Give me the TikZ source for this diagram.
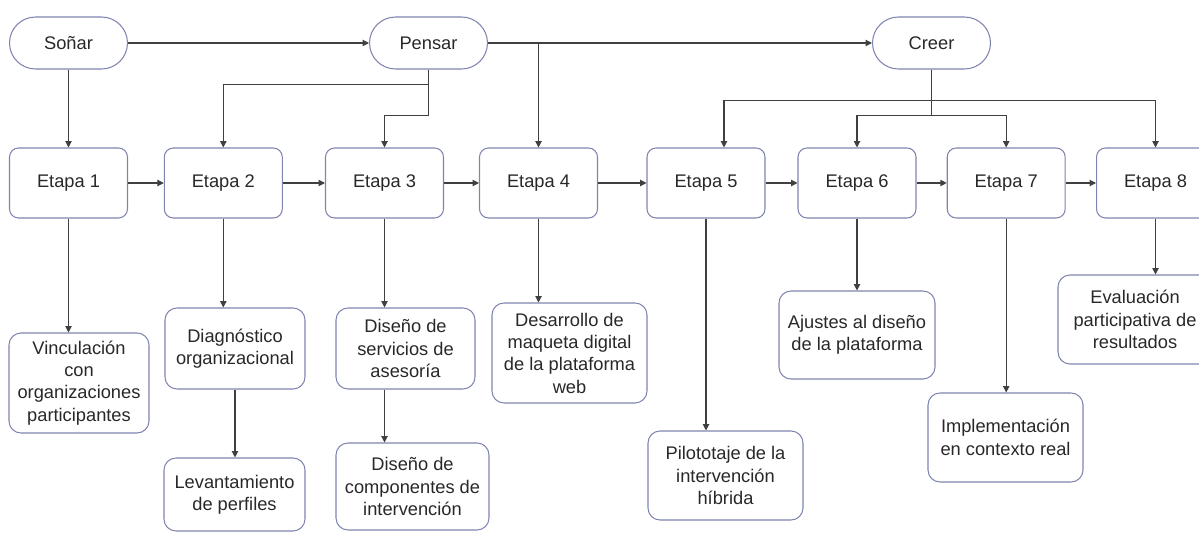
\documentclass[tikz,border=0pt]{standalone}
\usepackage{fontspec}
\setmainfont{Liberation Sans}
\usepackage{xcolor}
\usetikzlibrary{arrows.meta}

\definecolor{borde}{RGB}{128,132,176}
\definecolor{linea}{RGB}{64,64,64}
\definecolor{texto}{RGB}{40,40,40}

\tikzset{
	terminal/.style = {draw=borde, line width=0.6pt, rounded corners=0.52cm,
		minimum width=2.36cm, minimum height=1.04cm, inner sep=0pt},
	etapa/.style = {draw=borde, line width=0.6pt, rounded corners=0.18cm,
		minimum width=2.36cm, minimum height=1.4cm, inner sep=0pt},
	tarea/.style 2 args = {draw=borde, line width=0.6pt, rounded corners=0.24cm,
		minimum width=#1*0.02cm, minimum height=#2*0.02cm, inner sep=0pt, align=center},
	flecha/.style = {draw=linea, line width=0.6pt, -{Triangle[length=3.6pt, width=3.6pt]}}
}

\begin{document}
\begin{tikzpicture}[x=0.02cm, y=-0.02cm,
		font=\fontsize{10.4}{12.7}\selectfont, text=texto]
	\useasboundingbox (0,0) rectangle (1199,533);

	% fases
	\node [terminal] (sonar)  at (68.5,43)  {Soñar};
	\node [terminal] (pensar) at (428.5,43) {Pensar};
	\node [terminal] (creer)  at (931.5,43) {Creer};

	% etapas
	\foreach \n/\x in {1/68.5, 2/223.3, 3/384.5, 4/538.5, 5/706, 6/857, 7/1006.2, 8/1155.5}
		\node [etapa] (e\n) at (\x,183) {Etapa \n};

	% actividades
	\node [tarea={140}{100}] (vinc) at (79,383)     {Vinculación\\con\\organizaciones\\participantes};
	\node [tarea={140}{81}]  (diag) at (235,348.5)  {Diagnóstico\\organizacional};
	\node [tarea={141}{73}]  (lev)  at (234.5,494.5) {Levantamiento\\de perfiles};
	\node [tarea={139}{81}]  (serv) at (405.5,348.5) {Diseño de\\servicios de\\asesoría};
	\node [tarea={153}{87}]  (comp) at (412.5,486.5) {Diseño de\\componentes de\\intervención};
	\node [tarea={155}{100}] (desa) at (569.5,353)  {Desarrollo de\\maqueta digital\\de la plataforma\\web};
	\node [tarea={155}{89}]  (pilo) at (725.5,475.5) {Pilototaje de la\\intervención\\híbrida};
	\node [tarea={156}{88}]  (ajus) at (857,335)    {Ajustes al diseño\\de la plataforma};
	\node [tarea={155}{89}]  (impl) at (1005.5,437.5) {Implementación\\en contexto real};
	\node [tarea={154}{89}]  (eval) at (1135,319.5) {Evaluación\\participativa de\\resultados};

	% conexiones entre fases
	\draw [flecha] (sonar) -- (pensar);
	\draw [flecha] (pensar.east) -- (creer.west);
	\draw [flecha] (pensar.east) -| (e4.north);
	\draw [flecha] (sonar) -- (e1);
	\draw [flecha] (pensar.south) -- ++(0,15) -| (e2.north);
	\draw [flecha] (pensar.south) -- ++(0,46) -| (e3.north);
	\draw [flecha] (creer.south) -- ++(0,31) -| ([xshift=0.36cm]e5.north);
	\draw [flecha] (creer.south) -- ++(0,31) -| (e8.north);
	\draw [flecha] (creer.south) -- ++(0,46) -| (e6.north);
	\draw [flecha] (creer.south) -- ++(0,46) -| (e7.north);

	% secuencia de etapas
	\foreach \a/\b in {e1/e2, e2/e3, e3/e4, e4/e5, e5/e6, e6/e7, e7/e8}
		\draw [flecha] (\a) -- (\b);

	% etapas a actividades
	\draw [flecha] (e1.south) -- (e1.south |- vinc.north);
	\draw [flecha] (e2.south) -- (e2.south |- diag.north);
	\draw [flecha] (e3.south) -- (e3.south |- serv.north);
	\draw [flecha] (e4.south) -- (e4.south |- desa.north);
	\draw [flecha] (e5.south) -- (e5.south |- pilo.north);
	\draw [flecha] (e6.south) -- (e6.south |- ajus.north);
	\draw [flecha] (e7.south) -- (e7.south |- impl.north);
	\draw [flecha] (e8.south) -- (e8.south |- eval.north);
	\draw [flecha] (diag.south) -- (diag.south |- lev.north);
	\draw [flecha] (e3.south |- serv.south) -- (e3.south |- comp.north);
\end{tikzpicture}
\end{document}
